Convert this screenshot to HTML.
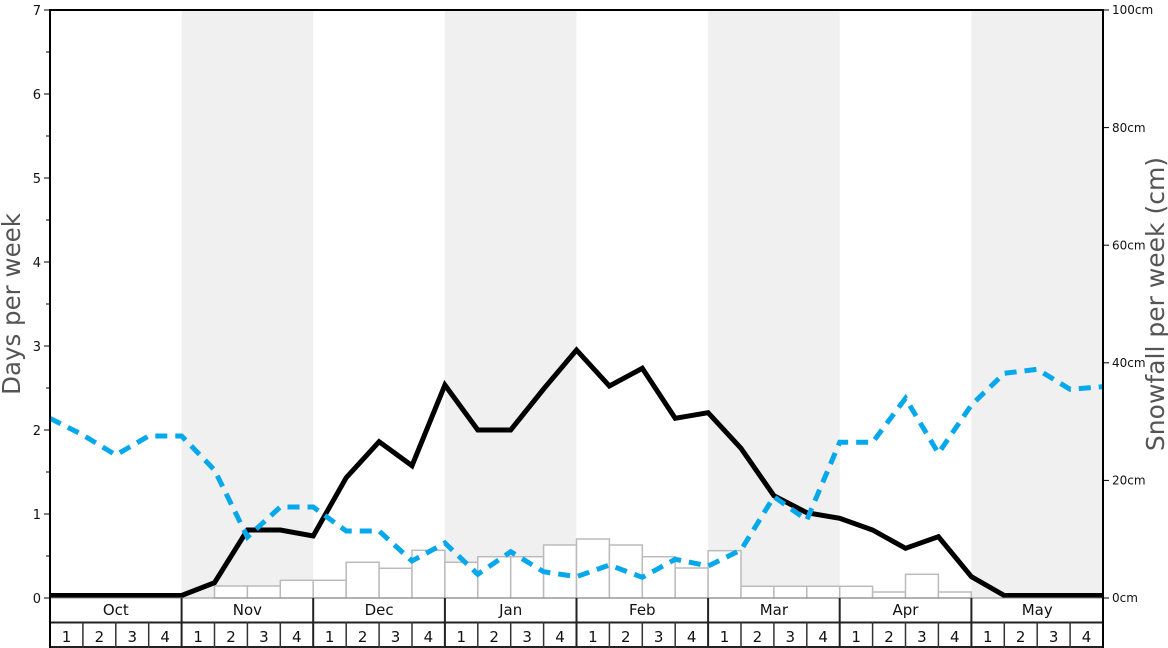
<!DOCTYPE html>
<html><head><meta charset="utf-8"><style>
html,body{margin:0;padding:0;background:#fff;}
svg{display:block;font-family:"DejaVu Sans","Liberation Sans",sans-serif;}
</style></head><body>
<svg width="1168" height="648" viewBox="0 0 1168 648" xmlns="http://www.w3.org/2000/svg">
<rect x="0" y="0" width="1168" height="648" fill="#fff"/>
<!-- bands -->
<g fill="#f0f0f0">
<rect x="181.6" y="10" width="131.6" height="588"/>
<rect x="444.9" y="10" width="131.6" height="588"/>
<rect x="708.1" y="10" width="131.6" height="588"/>
<rect x="971.4" y="10" width="131.6" height="588"/>
</g>
<!-- bars -->
<g fill="#fff" stroke="#bbb" stroke-width="1.5">
<rect x="214.5" y="586" width="32.9" height="12"/>
<rect x="247.4" y="586" width="32.9" height="12"/>
<rect x="280.3" y="580.3" width="32.9" height="17.7"/>
<rect x="313.2" y="580.3" width="32.9" height="17.7"/>
<rect x="346.2" y="562.3" width="32.9" height="35.7"/>
<rect x="379.1" y="568.3" width="32.9" height="29.7"/>
<rect x="412" y="550.3" width="32.9" height="47.7"/>
<rect x="444.9" y="562.3" width="32.9" height="35.7"/>
<rect x="477.8" y="556.7" width="32.9" height="41.3"/>
<rect x="510.7" y="556.7" width="32.9" height="41.3"/>
<rect x="543.6" y="545" width="32.9" height="53"/>
<rect x="576.5" y="539" width="32.9" height="59"/>
<rect x="609.4" y="545" width="32.9" height="53"/>
<rect x="642.3" y="556.7" width="32.9" height="41.3"/>
<rect x="675.2" y="568" width="32.9" height="30"/>
<rect x="708.1" y="550.7" width="32.9" height="47.3"/>
<rect x="741" y="586.3" width="32.9" height="11.7"/>
<rect x="773.9" y="586.3" width="32.9" height="11.7"/>
<rect x="806.8" y="586.3" width="32.9" height="11.7"/>
<rect x="839.7" y="586.3" width="32.9" height="11.7"/>
<rect x="872.6" y="592" width="32.9" height="6"/>
<rect x="905.5" y="574.3" width="32.9" height="23.7"/>
<rect x="938.4" y="592" width="32.9" height="6"/>
</g>
<!-- black line -->
<polyline fill="none" stroke="#000" stroke-width="5" stroke-linejoin="miter" points="50,595.5 181.6,595.5 214.5,582.7 247.4,530 280.3,530 313.2,536 346.2,477.7 379.1,441.7 412,465.7 444.9,385 477.8,430 510.7,430 543.6,389 576.5,350 609.4,386 642.3,368.3 675.2,418.3 708.1,412.7 741,448.3 773.9,495.7 806.8,512.7 839.7,518.3 872.6,530 905.5,548.3 938.4,536.7 971.4,576.7 1004.3,595.5 1103,595.5"/>
<!-- blue dashed -->
<polyline fill="none" stroke="#06a8ec" stroke-width="5" stroke-dasharray="12,8" points="50,418.3 82.9,435 115.8,455 148.7,436 181.6,436 214.5,470 247.4,537 280.3,507 313.2,507 346.2,531 379.1,531 412,561 444.9,543 477.8,574.3 510.7,551.7 543.6,571.7 576.5,576.7 609.4,565 642.3,577.3 675.2,559.3 708.1,566 741,550 773.9,496.7 806.8,520 839.7,442.3 872.6,442.3 905.5,398.3 938.4,453.3 971.4,405 1004.3,373.3 1037.2,369.3 1070.1,389.3 1103,386.7"/>
<!-- x-axis rows -->
<line x1="50" y1="598" x2="1103" y2="598" stroke="#888" stroke-width="1"/>
<line x1="50" y1="622.5" x2="1103" y2="622.5" stroke="#222" stroke-width="2"/>
<line x1="50" y1="647" x2="1103" y2="647" stroke="#222" stroke-width="2"/>
<g stroke="#333" stroke-width="1.5">
<line x1="82.9" y1="622" x2="82.9" y2="648"/><line x1="115.8" y1="622" x2="115.8" y2="648"/><line x1="148.7" y1="622" x2="148.7" y2="648"/>
<line x1="214.5" y1="622" x2="214.5" y2="648"/><line x1="247.4" y1="622" x2="247.4" y2="648"/><line x1="280.3" y1="622" x2="280.3" y2="648"/>
<line x1="346.2" y1="622" x2="346.2" y2="648"/><line x1="379.1" y1="622" x2="379.1" y2="648"/><line x1="412" y1="622" x2="412" y2="648"/>
<line x1="477.8" y1="622" x2="477.8" y2="648"/><line x1="510.7" y1="622" x2="510.7" y2="648"/><line x1="543.6" y1="622" x2="543.6" y2="648"/>
<line x1="609.4" y1="622" x2="609.4" y2="648"/><line x1="642.3" y1="622" x2="642.3" y2="648"/><line x1="675.2" y1="622" x2="675.2" y2="648"/>
<line x1="741" y1="622" x2="741" y2="648"/><line x1="773.9" y1="622" x2="773.9" y2="648"/><line x1="806.8" y1="622" x2="806.8" y2="648"/>
<line x1="872.6" y1="622" x2="872.6" y2="648"/><line x1="905.5" y1="622" x2="905.5" y2="648"/><line x1="938.4" y1="622" x2="938.4" y2="648"/>
<line x1="1004.3" y1="622" x2="1004.3" y2="648"/><line x1="1037.2" y1="622" x2="1037.2" y2="648"/><line x1="1070.1" y1="622" x2="1070.1" y2="648"/>
</g>
<g stroke="#222" stroke-width="2">
<line x1="181.6" y1="598" x2="181.6" y2="648"/><line x1="313.2" y1="598" x2="313.2" y2="648"/><line x1="444.9" y1="598" x2="444.9" y2="648"/>
<line x1="576.5" y1="598" x2="576.5" y2="648"/><line x1="708.1" y1="598" x2="708.1" y2="648"/><line x1="839.7" y1="598" x2="839.7" y2="648"/>
<line x1="971.4" y1="598" x2="971.4" y2="648"/>
</g>
<g font-size="15" fill="#111" text-anchor="middle">
<text x="115.8" y="615">Oct</text><text x="247.4" y="615">Nov</text><text x="379.1" y="615">Dec</text><text x="510.7" y="615">Jan</text>
<text x="642.3" y="615">Feb</text><text x="773.9" y="615">Mar</text><text x="905.5" y="615">Apr</text><text x="1037.2" y="615">May</text>
</g>
<g font-size="15" fill="#111" text-anchor="middle">
<text x="66.5" y="642">1</text><text x="99.4" y="642">2</text><text x="132.3" y="642">3</text><text x="165.2" y="642">4</text>
<text x="198.1" y="642">1</text><text x="231" y="642">2</text><text x="263.9" y="642">3</text><text x="296.8" y="642">4</text>
<text x="329.7" y="642">1</text><text x="362.6" y="642">2</text><text x="395.5" y="642">3</text><text x="428.4" y="642">4</text>
<text x="461.3" y="642">1</text><text x="494.2" y="642">2</text><text x="527.1" y="642">3</text><text x="560" y="642">4</text>
<text x="592.9" y="642">1</text><text x="625.8" y="642">2</text><text x="658.7" y="642">3</text><text x="691.6" y="642">4</text>
<text x="724.5" y="642">1</text><text x="757.4" y="642">2</text><text x="790.3" y="642">3</text><text x="823.2" y="642">4</text>
<text x="856.1" y="642">1</text><text x="889" y="642">2</text><text x="921.9" y="642">3</text><text x="954.8" y="642">4</text>
<text x="987.8" y="642">1</text><text x="1020.7" y="642">2</text><text x="1053.6" y="642">3</text><text x="1086.5" y="642">4</text>
</g>
<!-- frame -->
<line x1="50" y1="10" x2="1103" y2="10" stroke="#000" stroke-width="2"/>
<line x1="50" y1="9" x2="50" y2="648" stroke="#000" stroke-width="2"/>
<line x1="1103" y1="9" x2="1103" y2="648" stroke="#000" stroke-width="2"/>
<!-- left ticks -->
<g stroke="#000" stroke-width="1">
<line x1="44" y1="598" x2="50" y2="598"/><line x1="46" y1="556" x2="50" y2="556"/>
<line x1="44" y1="514" x2="50" y2="514"/><line x1="46" y1="472" x2="50" y2="472"/>
<line x1="44" y1="430" x2="50" y2="430"/><line x1="46" y1="388" x2="50" y2="388"/>
<line x1="44" y1="346" x2="50" y2="346"/><line x1="46" y1="304" x2="50" y2="304"/>
<line x1="44" y1="262" x2="50" y2="262"/><line x1="46" y1="220" x2="50" y2="220"/>
<line x1="44" y1="178" x2="50" y2="178"/><line x1="46" y1="136" x2="50" y2="136"/>
<line x1="44" y1="94" x2="50" y2="94"/><line x1="46" y1="52" x2="50" y2="52"/>
<line x1="44" y1="10" x2="50" y2="10"/>
</g>
<g font-size="13" fill="#111" text-anchor="end">
<text x="41" y="603">0</text><text x="41" y="519">1</text><text x="41" y="435">2</text><text x="41" y="351">3</text>
<text x="41" y="267">4</text><text x="41" y="183">5</text><text x="41" y="99">6</text><text x="41" y="15">7</text>
</g>
<!-- right ticks -->
<g stroke="#000" stroke-width="1">
<line x1="1103" y1="598" x2="1109" y2="598"/><line x1="1103" y1="480.4" x2="1109" y2="480.4"/>
<line x1="1103" y1="362.8" x2="1109" y2="362.8"/><line x1="1103" y1="245.2" x2="1109" y2="245.2"/>
<line x1="1103" y1="127.6" x2="1109" y2="127.6"/><line x1="1103" y1="10" x2="1109" y2="10"/>
</g>
<g font-size="12" fill="#111">
<text x="1112" y="602">0cm</text><text x="1112" y="484.5">20cm</text><text x="1112" y="367">40cm</text>
<text x="1112" y="249.5">60cm</text><text x="1112" y="132">80cm</text><text x="1112" y="14">100cm</text>
</g>
<!-- axis titles -->
<text transform="translate(20,304) rotate(-90)" font-size="24.5" fill="#555" text-anchor="middle">Days per week</text>
<text transform="translate(1164,304) rotate(-90)" font-size="25" fill="#555" text-anchor="middle">Snowfall per week (cm)</text>
</svg>
</body></html>
